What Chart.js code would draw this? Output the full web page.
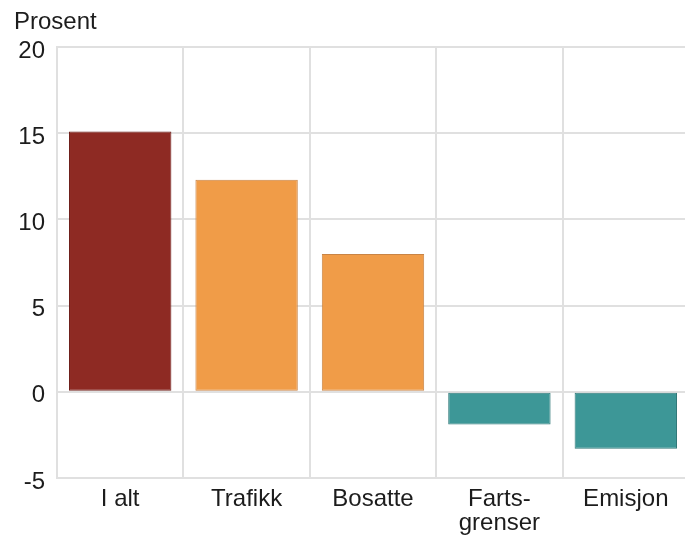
<!DOCTYPE html>
<html>
<head>
<meta charset="utf-8">
<script src="https://cdn.jsdelivr.net/npm/chart.js@4/dist/chart.umd.min.js"></script>
<style>
  html, body { margin: 0; padding: 0; background: #fff; overflow: hidden; }
  #wrap { width: 690px; height: 536px; position: relative; }
</style>
</head>
<body>
<div id="wrap"><canvas id="c" width="690" height="536"></canvas></div>
<script>
// Endring i prosent per komponent
const categories = ['I alt', 'Trafikk', 'Bosatte', ['Farts-', 'grenser'], 'Emisjon'];
const values = [15.1, 12.3, 8.0, -1.9, -3.3];
const yTicks = [-5, 0, 5, 10, 15, 20];
const unitLabel = 'Prosent';

const fillColors = ['#8e2a23', '#f09c48', '#f09c48', '#3d9797', '#3d9797'];
const edgeColors = ['#6e1f1a', '#c98445', '#c98445', '#2f7878', '#2f7878'];

const FONT = 'Liberation Sans, Arial, Helvetica, sans-serif';
const TEXT = '#1c1c1c';
const GRID = '#e0e0e0';

const unitTitle = {
  id: 'unitTitle',
  afterDraw(chart) {
    const ctx = chart.ctx;
    ctx.save();
    ctx.font = '24px ' + FONT;
    ctx.fillStyle = TEXT;
    ctx.textAlign = 'left';
    ctx.textBaseline = 'alphabetic';
    ctx.fillText(unitLabel, 14, 29);
    ctx.restore();
  }
};

new Chart(document.getElementById('c'), {
  type: 'bar',
  data: {
    labels: categories,
    datasets: [{
      data: values,
      backgroundColor: fillColors,
      borderColor: edgeColors,
      borderWidth: 1,
      borderSkipped: false,
      categoryPercentage: 1,
      barPercentage: 0.81
    }]
  },
  options: {
    responsive: false,
    animation: false,
    layout: { padding: { top: 47, right: 1, left: 0, bottom: 0 } },
    plugins: { legend: { display: false }, tooltip: { enabled: false }, title: { display: false } },
    scales: {
      x: {
        grid: { color: GRID, lineWidth: 2, drawTicks: false, offset: true },
        border: { color: GRID, width: 2 },
        ticks: {
          color: TEXT,
          font: { family: FONT, size: 24, lineHeight: 1.0 },
          padding: 9,
          maxRotation: 0,
          autoSkip: false
        },
        afterFit(scale) { scale.height = 58; }
      },
      y: {
        min: -5,
        max: 20,
        afterBuildTicks(scale) { scale.ticks = yTicks.map(v => ({ value: v })); },
        grid: { color: GRID, lineWidth: 2, drawTicks: false },
        border: { color: GRID, width: 2 },
        ticks: {
          color: TEXT,
          font: { family: FONT, size: 24 },
          padding: 12,
          labelOffset: 4
        },
        afterFit(scale) { scale.width = 57; }
      }
    }
  },
  plugins: [unitTitle]
});
</script>
</body>
</html>
